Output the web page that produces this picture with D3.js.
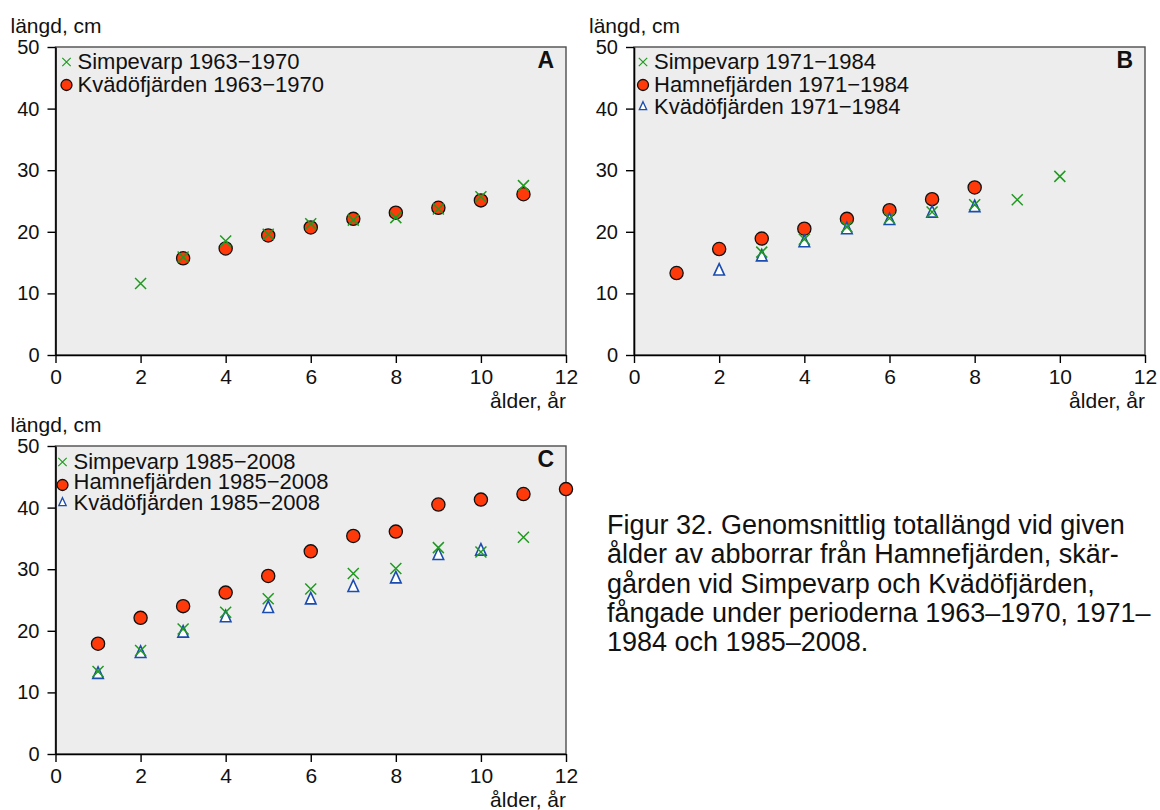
<!DOCTYPE html>
<html>
<head>
<meta charset="utf-8">
<script src="https://cdn.jsdelivr.net/npm/d3@7"></script>
<style>
  body { margin: 0; background: #ffffff; }
  svg text { font-family: "Liberation Sans", Arial, Helvetica, sans-serif; fill: #111; }
</style>
</head>
<body>
<svg id="fig" width="1160" height="810"></svg>
<script>
// Mean total length (cm) of perch by age (years), per site and period.

const xTickVals = [0, 2, 4, 6, 8, 10, 12];
const yTickVals = [0, 10, 20, 30, 40, 50];

// Panel A: 1963–1970
const simpA_age = [2, 3, 4, 5, 6, 7, 8, 9, 10, 11];
const simpA_len = [11.6, 15.9, 18.5, 19.6, 21.3, 21.9, 22.3, 23.7, 25.7, 27.5];
const kvadA_age = [3, 4, 5, 6, 7, 8, 9, 10, 11];
const kvadA_len = [15.7, 17.3, 19.4, 20.7, 22.1, 23.1, 23.9, 25.1, 26.1];

// Panel B: 1971–1984
const simpB_age = [3, 4, 5, 6, 7, 8, 9, 10];
const simpB_len = [16.7, 18.8, 20.8, 22.2, 23.2, 24.4, 25.2, 29.0];
const hamnB_age = [1, 2, 3, 4, 5, 6, 7, 8];
const hamnB_len = [13.3, 17.2, 18.9, 20.5, 22.1, 23.5, 25.3, 27.2];
const kvadB_age = [2, 3, 4, 5, 6, 7, 8];
const kvadB_len = [13.6, 15.9, 18.2, 20.3, 21.8, 23.0, 23.9];

// Panel C: 1985–2008
const simpC_age = [1, 2, 3, 4, 5, 6, 7, 8, 9, 10, 11];
const simpC_len = [13.4, 16.8, 20.3, 23.0, 25.2, 26.8, 29.3, 30.1, 33.5, 32.8, 35.2];
const hamnC_age = [1, 2, 3, 4, 5, 6, 7, 8, 9, 10, 11, 12];
const hamnC_len = [17.9, 22.1, 24.0, 26.2, 28.9, 32.9, 35.4, 36.1, 40.5, 41.3, 42.2, 43.0];
const kvadC_age = [1, 2, 3, 4, 5, 6, 7, 8, 9, 10];
const kvadC_len = [12.9, 16.3, 19.6, 22.1, 23.6, 25.0, 27.0, 28.4, 32.2, 32.9];

const captionLines = [
  "Figur 32. Genomsnittlig totallängd vid given",
  "ålder av abborrar från Hamnefjärden, skär-",
  "gården vid Simpevarp och Kvädöfjärden,",
  "fångade under perioderna 1963–1970, 1971–",
  "1984 och 1985–2008."
];

const COLORS = { x: "#1f9a1f", o: "#ff3a0a", tri: "#1b4cb0" };

const zip = (a, l) => a.map((v, i) => ({ age: v, len: l[i] }));

const panels = [
  {
    letter: "A", left: 55.5, right: 566, top: 47, bottom: 355,
    legendDx: 11, legendTextDx: 22, legendRows: [14, 37],
    series: [
      { kind: "x", label: "Simpevarp 1963−1970", data: zip(simpA_age, simpA_len) },
      { kind: "o", label: "Kvädöfjärden 1963−1970", data: zip(kvadA_age, kvadA_len) }
    ]
  },
  {
    letter: "B", left: 634, right: 1145, top: 47, bottom: 355,
    legendDx: 9, legendTextDx: 20, legendRows: [14, 37, 59],
    series: [
      { kind: "x", label: "Simpevarp 1971−1984", data: zip(simpB_age, simpB_len) },
      { kind: "o", label: "Hamnefjärden 1971−1984", data: zip(hamnB_age, hamnB_len) },
      { kind: "tri", label: "Kvädöfjärden 1971−1984", data: zip(kvadB_age, kvadB_len) }
    ]
  },
  {
    letter: "C", left: 55.5, right: 566, top: 446, bottom: 754,
    legendDx: 7, legendTextDx: 18, legendRows: [15, 35, 56],
    series: [
      { kind: "x", label: "Simpevarp 1985−2008", data: zip(simpC_age, simpC_len) },
      { kind: "o", label: "Hamnefjärden 1985−2008", data: zip(hamnC_age, hamnC_len) },
      { kind: "tri", label: "Kvädöfjärden 1985−2008", data: zip(kvadC_age, kvadC_len) }
    ]
  }
];

const svg = d3.select("#fig");

function crossPath(cx, cy, h) {
  return `M${cx - h},${cy - h}L${cx + h},${cy + h}M${cx - h},${cy + h}L${cx + h},${cy - h}`;
}
function triPath(cx, cy, w, h) {
  return `M${cx},${cy - h * 2 / 3}L${cx + w / 2},${cy + h / 3}L${cx - w / 2},${cy + h / 3}Z`;
}

function drawMarker(g, kind, cx, cy, small) {
  if (kind === "o") {
    g.append("circle").attr("cx", cx).attr("cy", cy).attr("r", small ? 5.5 : 6.6)
      .attr("fill", COLORS.o).attr("stroke", "#111").attr("stroke-width", 1.3);
  } else if (kind === "tri") {
    const s = small ? 8 : 11.5;
    g.append("path").attr("d", triPath(cx, cy, s * 0.92, s))
      .attr("fill", "#ffffff").attr("stroke", COLORS.tri).attr("stroke-width", small ? 1.3 : 1.6)
      .attr("stroke-linejoin", "miter");
  } else {
    g.append("path").attr("d", crossPath(cx, cy, small ? 4.2 : 5.5))
      .attr("fill", "none").attr("stroke", COLORS.x).attr("stroke-width", small ? 1.2 : 1.5);
  }
}

function drawPanel(p) {
  const g = svg.append("g");
  const x = d3.scaleLinear().domain([0, 12]).range([p.left, p.right]);
  const y = d3.scaleLinear().domain([0, 50]).range([p.bottom, p.top]);

  // plot area
  g.append("rect")
    .attr("x", x(0)).attr("y", y(50))
    .attr("width", x(12) - x(0)).attr("height", y(0) - y(50))
    .attr("fill", "#ededed").attr("stroke", "#4d4d4d").attr("stroke-width", 1.4);

  // axes
  const yAxis = d3.axisLeft(y).tickValues(yTickVals).tickSize(8).tickSizeOuter(0).tickPadding(8);
  const xAxis = d3.axisBottom(x).tickValues(xTickVals).tickSize(8).tickSizeOuter(0).tickPadding(6);

  const ya = g.append("g").attr("transform", `translate(${x(0)},0)`).call(yAxis);
  const xa = g.append("g").attr("transform", `translate(0,${y(0)})`).call(xAxis);
  [ya, xa].forEach(a => {
    a.select(".domain").attr("stroke", "#000").attr("stroke-width", 1.6);
    a.selectAll(".tick line").attr("stroke", "#000").attr("stroke-width", 1.4);
    a.selectAll(".tick text").attr("fill", "#111")
      .style("font-family", '"Liberation Sans", Arial, sans-serif');
  });
  ya.selectAll(".tick text").style("font-size", "20px");
  xa.selectAll(".tick text").style("font-size", "21px");

  // axis titles
  g.append("text").attr("x", x(0) - 45).attr("y", y(50) - 14)
    .style("font-size", "21px").text("längd, cm");
  g.append("text").attr("x", x(12)).attr("y", y(0) + 53)
    .attr("text-anchor", "end").style("font-size", "21px").text("ålder, år");

  // panel letter
  g.append("text").attr("x", x(12) - 12).attr("y", y(50) + 21)
    .attr("text-anchor", "end").style("font-size", "23px").style("font-weight", "bold")
    .text(p.letter);

  // points: circles first, then triangles, crosses on top
  const order = ["o", "tri", "x"];
  order.forEach(kind => {
    p.series.filter(s => s.kind === kind).forEach(s => {
      s.data.forEach(d => drawMarker(g, kind, x(d.age), y(d.len), false));
    });
  });

  // legend
  p.series.forEach((s, i) => {
    const ry = y(50) + p.legendRows[i];
    const my = s.kind === "o" && p.letter === "C" ? ry + 4 : ry + 1;
    drawMarker(g, s.kind, x(0) + p.legendDx, my, true);
    g.append("text").attr("x", x(0) + p.legendTextDx).attr("y", ry + 8)
      .style("font-size", "22px").text(s.label);
  });
}

panels.forEach(drawPanel);

// caption
const cap = svg.append("text").attr("x", 607).attr("y", 534)
  .style("font-size", "27px").attr("fill", "#1a1a1a");
captionLines.forEach((line, i) => {
  cap.append("tspan").attr("x", 607).attr("dy", i === 0 ? 0 : 29.3).text(line);
});
</script>
</body>
</html>
